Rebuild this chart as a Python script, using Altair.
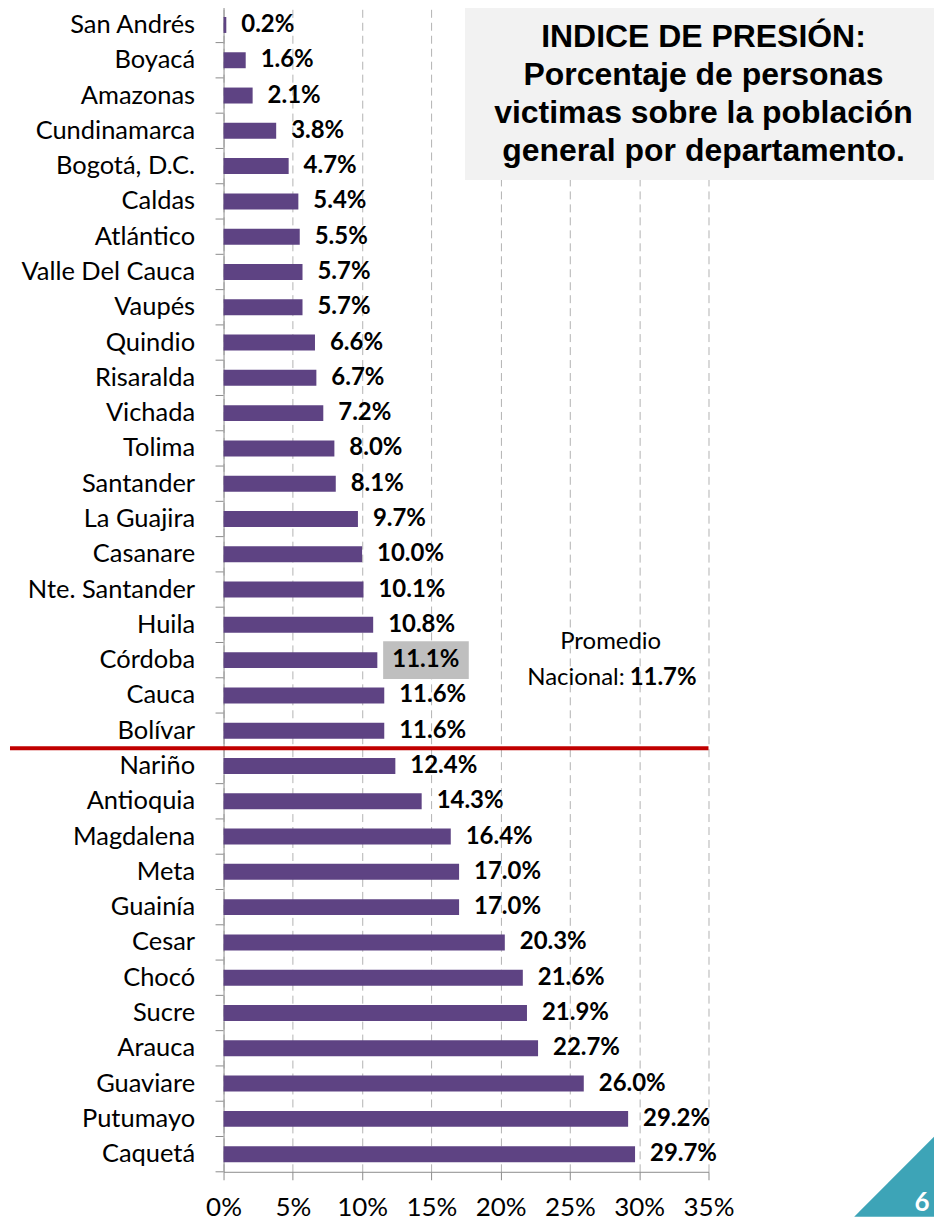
import altair as alt
import pandas as pd

cats = ["San Andrés", "Boyacá", "Amazonas", "Cundinamarca", "Bogotá, D.C.", "Caldas",
        "Atlántico", "Valle Del Cauca", "Vaupés", "Quindio", "Risaralda", "Vichada",
        "Tolima", "Santander", "La Guajira", "Casanare", "Nte. Santander", "Huila",
        "Córdoba", "Cauca", "Bolívar", "Nariño", "Antioquia", "Magdalena", "Meta",
        "Guainía", "Cesar", "Chocó", "Sucre", "Arauca", "Guaviare", "Putumayo", "Caquetá"]
vals = [0.2, 1.6, 2.1, 3.8, 4.7, 5.4, 5.5, 5.7, 5.7, 6.6, 6.7, 7.2, 8.0, 8.1, 9.7, 10.0,
        10.1, 10.8, 11.1, 11.6, 11.6, 12.4, 14.3, 16.4, 17.0, 17.0, 20.3, 21.6, 21.9,
        22.7, 26.0, 29.2, 29.7]
x_ticks = [0, 5, 10, 15, 20, 25, 30, 35]
avg = 11.7
highlight = "Córdoba"
title_lines = ["INDICE DE PRESIÓN:", "Porcentaje de personas",
               "victimas sobre la población", "general por departamento."]
avg_line1 = "Promedio"
avg_line2a = "Nacional:"
avg_line2b = f"{avg:.1f}%"
page_num = "6"

W, H = 486, 1167
AX = "#8c8c8c"
FONT = "Lato"

df = pd.DataFrame({"dept": cats, "v": vals})
df["label"] = [f"{v:.1f}%" for v in vals]
one = pd.DataFrame({"a": [0]})

def Y(**kw):
    return alt.Y("dept:N", sort=cats, title=None,
                 scale=alt.Scale(paddingInner=0, paddingOuter=0), **kw)

xscale = alt.Scale(domain=[0, 35], nice=False)

base = alt.Chart(df)

bars = base.mark_bar(size=16, color="#5E4383").encode(
    y=Y(),
    x=alt.X("v:Q", scale=xscale, title=None,
            axis=alt.Axis(values=x_ticks, labelExpr="datum.value + '%'")),
)

hl = base.transform_filter(alt.datum.dept == highlight).transform_calculate(
    x1="datum.v + 0.42", x2="datum.v + 6.6"
).mark_bar(size=38, color="#BFBFBF").encode(
    y=Y(), x=alt.X("x1:Q", scale=xscale, title=None), x2="x2:Q"
)

labels = base.mark_text(align="left", baseline="middle", dx=15, font=FONT,
                        fontWeight="bold", fontSize=24, color="black").encode(
    y=Y(), x=alt.X("v:Q", scale=xscale, title=None), text="label:N"
)

ticks = base.mark_rule(color=AX).encode(
    y=Y(bandPosition=0), x=alt.value(-8), x2=alt.value(0)
)
tick_last = base.transform_filter(alt.datum.dept == cats[-1]).mark_rule(color=AX).encode(
    y=Y(bandPosition=1), x=alt.value(-8), x2=alt.value(0)
)

idx = next(i for i, v in enumerate(vals) if v > avg)
rule = alt.Chart(pd.DataFrame({"dept": [cats[idx]]})).mark_rule(
    color="#C00000", strokeWidth=4
).encode(y=Y(bandPosition=0), x=alt.value(-214), x2=alt.value(W))

hi = cats.index(highlight)
ann1 = alt.Chart(pd.DataFrame({"dept": [cats[hi]]})).mark_text(
    font=FONT, fontSize=24, color="black", align="center", baseline="middle"
).encode(y=Y(bandPosition=0), x=alt.value(388), text=alt.value(avg_line1))
ann2 = alt.Chart(pd.DataFrame({"dept": [cats[hi + 1]]})).mark_text(
    font=FONT, fontSize=24, color="black", align="right", baseline="middle"
).encode(y=Y(bandPosition=0), x=alt.value(402), text=alt.value(avg_line2a))
ann3 = alt.Chart(pd.DataFrame({"dept": [cats[hi + 1]]})).mark_text(
    font=FONT, fontSize=24, fontWeight="bold", color="black", align="left", baseline="middle"
).encode(y=Y(bandPosition=0), x=alt.value(407), text=alt.value(avg_line2b))

tbox = alt.Chart(one).mark_rect(color="#F2F2F2").encode(
    x=alt.value(242), x2=alt.value(712), y=alt.value(0), y2=alt.value(173)
)
ttext = alt.Chart(one).mark_text(
    font="Liberation Sans", fontWeight="bold", fontSize=32, lineHeight=38,
    align="center", baseline="middle", color="black"
).encode(x=alt.value(481), y=alt.value(30), text=alt.value(title_lines))

tri = alt.Chart(one).mark_point(
    shape="M -1 1 L 1 -1 L 1 1 Z", filled=True, size=80 * 80,
    color="#3DA4B7", opacity=1, strokeWidth=0
).encode(x=alt.value(672), y=alt.value(1172))
pnum = alt.Chart(one).mark_text(
    font=FONT, fontWeight="bold", fontSize=26, color="white",
    align="center", baseline="middle"
).encode(x=alt.value(700), y=alt.value(1198), text=alt.value(page_num))

chart = alt.layer(
    tbox, ttext, bars, hl, labels, ticks, tick_last, rule, ann1, ann2, ann3, tri, pnum
).properties(
    width=W, height=H, padding={"top": -3, "left": 0, "right": 0, "bottom": 0}
).configure_view(stroke=None).configure_axis(
    labelFont=FONT, labelColor="#000", domainColor=AX, tickColor=AX
).configure_axisX(
    grid=True, gridDash=[8, 5], gridColor="#b3b3b3", tickSize=8, labelPadding=15,
    labelFlush=False, labelFontSize=26
).configure_axisY(
    ticks=False, labelPadding=29, grid=False, labelLimit=300, labelFontSize=25.5
)

chart.save("out.html", embed_options={"renderer": "svg", "actions": False})
